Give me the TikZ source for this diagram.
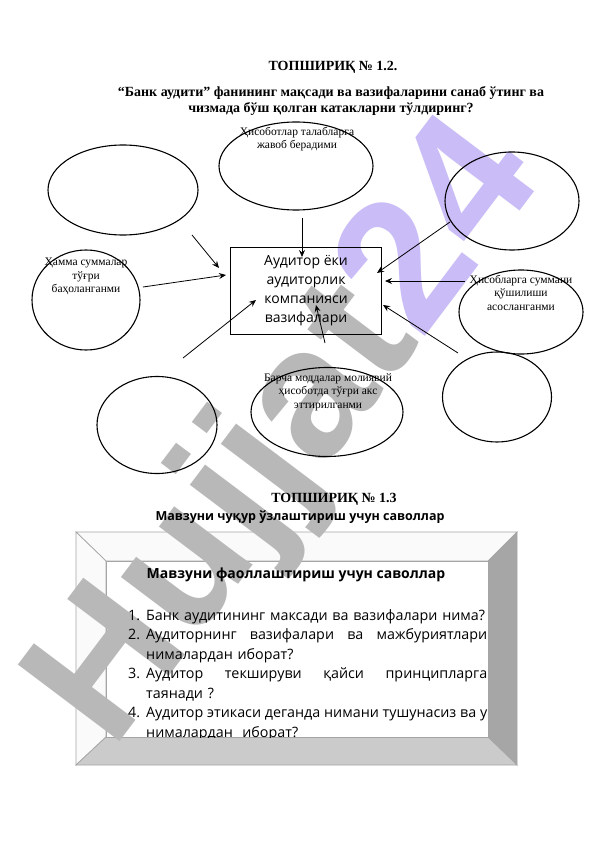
\documentclass[tikz,border=0pt]{standalone}
\usepackage{fontspec}
\setmainfont{Liberation Serif}
\newfontfamily\sansf{Open Sans}
\newfontfamily\wmfont{Liberation Sans}
\usetikzlibrary{arrows.meta,shapes.geometric}
\definecolor{wmgray}{RGB}{184,184,184}
\definecolor{wmpurple}{RGB}{202,188,246}
\definecolor{bevline}{RGB}{165,165,165}
\definecolor{bevtop}{RGB}{250,250,250}
\definecolor{bevright}{RGB}{166,166,166}
\definecolor{bevbottom}{RGB}{203,203,203}
\newcommand\qnum[1]{\makebox[18pt][l]{#1}}
\newcommand\jline[1]{\makebox[341pt][s]{#1}}
\begin{document}
\begin{tikzpicture}[x=1pt,y=-1pt,
  oval/.style={draw, ellipse, line width=1.1pt, inner sep=0pt},
  etext/.style={anchor=north, align=center, inner sep=0pt, font=\fontsize{11.5}{13.5}\selectfont},
  arr/.style={line width=0.8pt, -{Stealth[length=7pt,width=6pt,inset=2.5pt]}},
  bev/.style={draw=bevline, line width=0.7pt},
  title/.style={inner sep=0pt, font=\bfseries\fontsize{14}{16}\selectfont}]
\path[use as bounding box, fill=white] (0,0) rectangle (596,842);

% bevel box fills
\filldraw[bev, fill=bevtop] (76,532) -- (517,532) -- (488,561) -- (106,561) -- cycle;
\filldraw[bev, fill=bevtop] (76,532) -- (106,561) -- (106,737) -- (76,765) -- cycle;
\filldraw[bev, fill=bevright] (517,532) -- (517,765) -- (488,737) -- (488,561) -- cycle;
\filldraw[bev, fill=bevbottom] (76,765) -- (517,765) -- (488,737) -- (106,737) -- cycle;
\filldraw[bev, fill=white] (106,561) rectangle (488,737);

% watermark
\node[rotate=53, anchor=base west, inner sep=0pt, font=\wmfont\bfseries\fontsize{185}{185}\selectfont] (wm) at (112,752)
  {\textcolor{wmgray}{Hujjat}\textcolor{wmpurple}{24}};

% titles
\node[title] (t1) at (333,67) {ТОПШИРИҚ № 1.2.};
\node[title] (t2) at (331,93) {“Банк аудити” фанининг мақсади ва вазифаларини санаб ўтинг ва};
\node[title] (t3) at (331,109) {чизмада бўш қолган катакларни тўлдиринг?};

% ellipses
\node[oval, minimum width=154pt, minimum height=88pt] (etop) at (296,166) {};
\node[oval, minimum width=150pt, minimum height=90pt] (etl) at (123,190) {};
\node[oval, minimum width=108pt, minimum height=100pt] (eleft) at (86,300) {};
\node[oval, minimum width=134pt, minimum height=98pt] (etr) at (512,201) {};
\node[oval, minimum width=124pt, minimum height=84pt] (eright) at (521,312) {};
\node[oval, minimum width=109pt, minimum height=90pt] (ebr) at (497,397) {};
\node[oval, minimum width=120pt, minimum height=97pt] (ebl) at (157,425) {};
\node[oval, minimum width=152pt, minimum height=89pt] (ebot) at (327,412) {};

% ellipse texts
\node[etext] (xtop) at (297,127) {Ҳисоботлар талабларга\\жавоб берадими};
\node[etext] (xleft) at (86,258) {Ҳамма суммалар\\тўғри\\баҳоланганми};
\node[etext] (xright) at (521,275) {Ҳисобларга суммани\\қўшилиши\\асосланганми};
\node[etext] (xbot) at (328,373) {Барча моддалар молиявий\\ҳисоботда тўғри акс\\эттирилганми};

% central box
\node[draw, line width=1.8pt, minimum width=151pt, minimum height=87pt, align=center, inner sep=0pt,
  font=\sansf\fontsize{14}{19}\selectfont] (box) at (306,291)
  {Аудитор ёки\\аудиторлик\\компанияси\\вазифалари};

% arrow endpoints
\coordinate (s1) at (302,218); \coordinate (e1) at (302,257);
\coordinate (s2) at (192,235); \coordinate (e2) at (219,268);
\coordinate (s3) at (143,287); \coordinate (e3) at (226,275);
\coordinate (s4) at (183,358); \coordinate (e4) at (256,300);
\coordinate (s5) at (325,343); \coordinate (e5) at (316,305);
\coordinate (s6) at (450,222); \coordinate (e6) at (377,273);
\coordinate (s7) at (465,281); \coordinate (e7) at (385,281);
\coordinate (s8) at (458,353); \coordinate (e8) at (383,305);
\foreach \i in {1,...,8} \draw[arr] (s\i) -- (e\i);

% section 2
\node[inner sep=0pt, font=\bfseries\fontsize{14}{16}\selectfont] (t4) at (334,499) {ТОПШИРИҚ № 1.3};
\node[inner sep=0pt, font=\sansf\bfseries\fontsize{12.5}{15}\selectfont] (t5) at (300,517) {Мавзуни чуқур ўзлаштириш учун саволлар};
\node[inner sep=0pt, font=\sansf\bfseries\fontsize{14}{16}\selectfont] (t6) at (296,575) {Мавзуни фаоллаштириш учун саволлар};

\begin{scope}
\clip (106,561) rectangle (488,737);
\node[anchor=north west, inner sep=0pt, text width=430pt, align=left,
  font=\sansf\fontsize{14.3}{19.5}\selectfont] (qlist) at (128,609)
  {\qnum{1.}Банк аудитининг максади ва вазифалари нима?\\
   \qnum{2.}\jline{Аудиторнинг\hfill вазифалари\hfill ва\hfill мажбуриятлари}\\
   \qnum{}нималардан иборат?\\
   \qnum{3.}\jline{Аудитор\hfill текшируви\hfill қайси\hfill принципларга}\\
   \qnum{}таянади ?\\
   \qnum{4.}\jline{Аудитор\hfill этикаси\hfill деганда\hfill нимани\hfill тушунасиз\hfill ва\hfill у}\\
   \qnum{}нималардан\ \ иборат?};
\end{scope}
\end{tikzpicture}
\end{document}
